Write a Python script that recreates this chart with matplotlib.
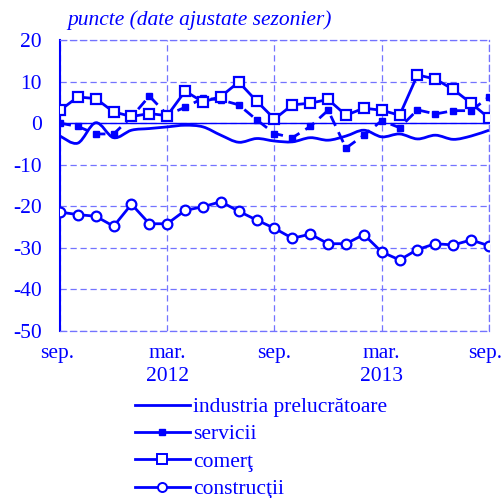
import matplotlib.pyplot as plt
import numpy as np
from matplotlib.path import Path
from matplotlib.patches import PathPatch
from matplotlib.lines import Line2D
from matplotlib.transforms import ScaledTranslation

# luni: sep. 2011 ... sep. 2013
months = np.arange(25)
tick_pos = [0, 6, 12, 18, 24]
tick_labels = ["sep.", "mar.\n2012", "sep.", "mar.\n2013", "sep."]

industria = [-3.1, -4.8, 0.1, -3.5, -1.7, -1.3, -0.9, -0.5, -0.9, -2.9, -4.6, -3.7, -4.3,
             -4.5, -3.5, -4.1, -3.1, -1.7, -3.3, -2.6, -3.8, -2.9, -3.9, -3.1, -1.7]
servicii = [0.0, -0.8, -2.6, -2.6, 1.5, 6.5, 2.0, 3.8, 6.0, 5.6, 4.4, 0.8, -2.5,
            -3.5, -0.8, 3.1, -6.0, -2.9, 0.6, -1.1, 3.2, 2.2, 3.0, 3.0, 6.3]
comert = [3.1, 6.3, 5.9, 2.7, 1.6, 2.3, 1.8, 7.7, 5.1, 6.4, 9.9, 5.3, 1.0,
          4.4, 4.8, 5.7, 1.9, 3.6, 3.1, 1.9, 11.6, 10.6, 8.1, 4.8, 1.2]
constructii = [-21.4, -22.0, -22.4, -24.8, -19.5, -24.2, -24.2, -21.0, -20.1, -18.9, -21.2, -23.3, -25.3,
               -27.7, -26.7, -29.0, -29.0, -26.8, -31.0, -32.9, -30.4, -29.0, -29.3, -28.1, -29.5]

blue = "#0000ff"
grid_c = "#7373ff"
fs = 15.5
plt.rcParams["font.family"] = ["Liberation Serif", "DejaVu Serif"]
plt.rcParams["font.size"] = fs
plt.rcParams["axes.unicode_minus"] = False

fig = plt.figure(figsize=(5.02, 4.98), dpi=100)
ax = fig.add_axes([60 / 502, 1 - 331 / 498, 429 / 502, 291 / 498])


def smooth_path(x, y):
    # bezier segments (catmull-rom) through the data points
    x = np.asarray(x, float)
    y = np.asarray(y, float)
    verts = [(x[0], y[0])]
    codes = [Path.MOVETO]
    n = len(x)
    for i in range(n - 1):
        p0 = np.array([x[max(i - 1, 0)], y[max(i - 1, 0)]])
        p1 = np.array([x[i], y[i]])
        p2 = np.array([x[i + 1], y[i + 1]])
        p3 = np.array([x[min(i + 2, n - 1)], y[min(i + 2, n - 1)]])
        c1 = p1 + (p2 - p0) / 6
        c2 = p2 - (p3 - p1) / 6
        verts += [tuple(c1), tuple(c2), tuple(p2)]
        codes += [Path.CURVE4] * 3
    return Path(verts, codes)


ax.add_patch(PathPatch(smooth_path(months, industria), fill=False, edgecolor=blue, lw=2, zorder=3))
ax.plot(months, servicii, color=blue, lw=2, ls=(0, (4, 2.5)), marker="s", ms=4.5,
        mfc=blue, mec=blue, zorder=4)
ax.plot(months, comert, color=blue, lw=2, marker="s", ms=7.8, mfc="white", mec=blue,
        mew=1.6, zorder=5)
ax.plot(months, constructii, color=blue, lw=2, marker="o", ms=7, mfc="white", mec=blue,
        mew=1.6, zorder=5)

ax.axhline(0, color=blue, lw=1, zorder=2)
ax.set_xlim(0, 24)
ax.set_ylim(-50, 20)
ax.set_yticks(range(-50, 21, 10))
ax.set_xticks(tick_pos)
ax.set_xticklabels(tick_labels, color=blue, linespacing=1.35)
for t in ax.get_yticklabels():
    t.set_color(blue)
ax.tick_params(length=0)
ax.tick_params(axis="y", pad=13)
ax.tick_params(axis="x", pad=9)
xl = ax.get_xticklabels()
xl[0].set_transform(xl[0].get_transform() + ScaledTranslation(-3 / 100, 0, fig.dpi_scale_trans))
xl[-1].set_transform(xl[-1].get_transform() + ScaledTranslation(-4 / 100, 0, fig.dpi_scale_trans))
ax.grid(True, color=grid_c, ls=(0, (5, 3)), lw=0.9)
for s in ["top", "right", "bottom"]:
    ax.spines[s].set_color(grid_c)
    ax.spines[s].set_linestyle((0, (5, 3)))
    ax.spines[s].set_linewidth(0.9)
ax.spines["left"].set_color(blue)
ax.spines["left"].set_linewidth(1.5)

fig.text(67 / 502, 1 - 20 / 498, "puncte (date ajustate sezonier)", color=blue,
         style="italic", fontsize=fs, va="center")

handles = [
    Line2D([], [], color=blue, lw=2),
    Line2D([], [], color=blue, lw=2, marker="s", ms=4.5),
    Line2D([], [], color=blue, lw=2, marker="s", ms=7, mfc="white", mew=1.4),
    Line2D([], [], color=blue, lw=2, marker="o", ms=6.5, mfc="white", mew=1.4),
]
labels = ["industria prelucrătoare", "servicii", "comerţ", "construcţii"]
leg = fig.legend(handles, labels, loc="upper left", bbox_to_anchor=(135 / 502, 1 - 397 / 498),
                 frameon=False, handlelength=2.55, handletextpad=0.15, labelspacing=0.34,
                 borderpad=0, borderaxespad=0, fontsize=fs)
for t in leg.get_texts():
    t.set_color(blue)

fig.savefig("out.png", dpi=100)
